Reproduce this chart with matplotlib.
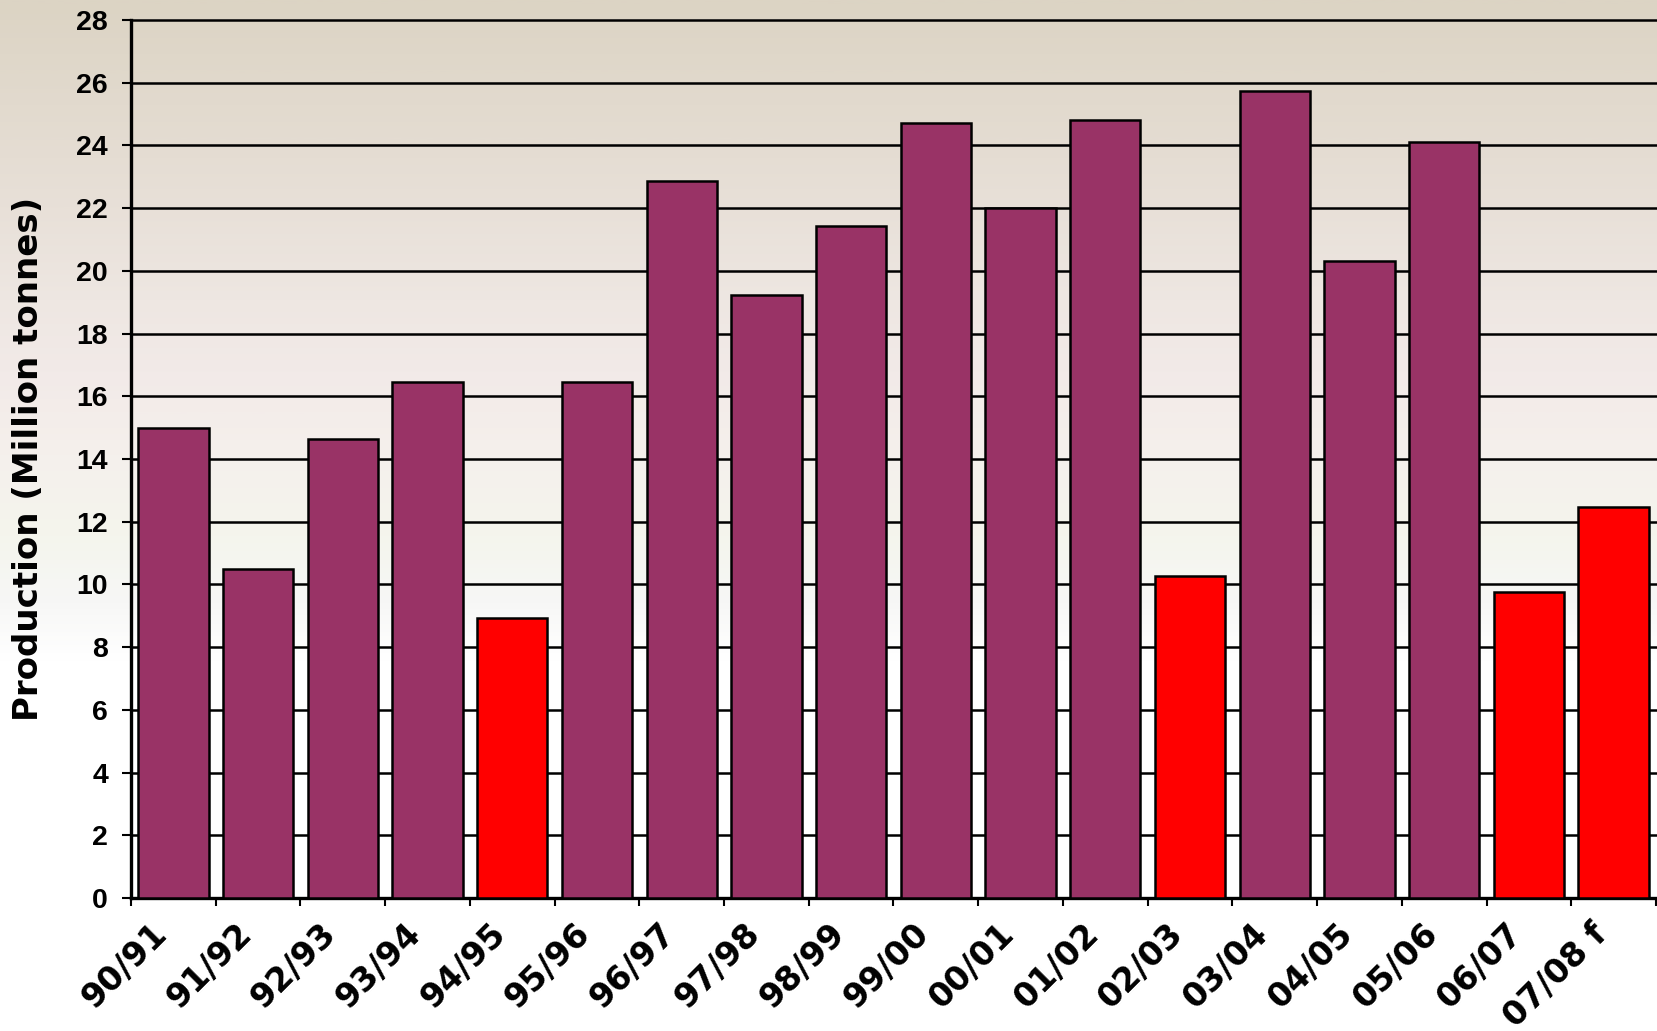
import matplotlib.pyplot as plt
import numpy as np
from matplotlib.colors import LinearSegmentedColormap

# production by season (million tonnes)
seasons = ['90/91', '91/92', '92/93', '93/94', '94/95', '95/96', '96/97', '97/98', '98/99',
           '99/00', '00/01', '01/02', '02/03', '03/04', '04/05', '05/06', '06/07', '07/08 f']
production = [15.0, 10.5, 14.65, 16.45, 8.93, 16.45, 22.85, 19.22, 21.42,
              24.7, 22.0, 24.8, 10.27, 25.72, 20.32, 24.12, 9.77, 12.47]
# drought-hit seasons shown in red
drought_seasons = ['94/95', '02/03', '06/07', '07/08 f']

W, H = 1657, 1031
fig = plt.figure(figsize=(W / 100, H / 100), dpi=100)

# soft vertical gradient behind everything
bg = fig.add_axes([0, 0, 1, 1], zorder=-10)
bg.axis('off')
stops = [(0.0, (220, 212, 196)), (0.10, (226, 218, 206)), (0.20, (232, 224, 216)),
         (0.29, (238, 231, 226)), (0.36, (242, 234, 232)), (0.44, (245, 240, 236)),
         (0.52, (244, 245, 237)), (0.585, (247, 247, 246)), (0.64, (255, 255, 255)),
         (1.0, (255, 255, 255))]
cmap = LinearSegmentedColormap.from_list('bg', [(p, tuple(c / 255 for c in rgb)) for p, rgb in stops])
bg.imshow(np.linspace(0, 1, 600).reshape(-1, 1), aspect='auto', cmap=cmap, extent=[0, 1, 0, 1])

ax = fig.add_axes([131 / W, 1 - 898 / H, (1656 - 131) / W, (898 - 20) / H])
ax.patch.set_alpha(0)

x = np.arange(len(seasons))
colors = ['#FF0000' if s in drought_seasons else '#993366' for s in seasons]
ax.bar(x, production, width=0.83, color=colors, edgecolor='black', linewidth=1.8, zorder=3)

ax.set_xlim(-0.5, len(seasons) - 0.5)
ax.set_ylim(0, 28)
ax.set_yticks(range(0, 29, 2))
ax.yaxis.grid(True, color='black', linewidth=1.8)
ax.set_axisbelow(True)
for gl in ax.get_ygridlines():
    gl.set_clip_on(False)

for side in ['top', 'right']:
    ax.spines[side].set_visible(False)
for side in ['left', 'bottom']:
    ax.spines[side].set_linewidth(2.4)

ax.set_xticks(np.arange(-0.5, len(seasons), 1))
ax.set_xticklabels([])
ax.set_xticks(x, minor=True)
ax.set_xticklabels(seasons, minor=True, rotation=45, ha='right', va='top',
                   fontsize=24, fontweight='bold', family='DejaVu Sans')
ax.tick_params(axis='x', which='major', direction='out', length=6, width=1.5)
ax.tick_params(axis='x', which='minor', length=0, pad=14)
ax.tick_params(axis='y', direction='out', length=6.5, width=1.5, pad=10)
for lab in ax.get_yticklabels():
    lab.set_fontfamily('Liberation Sans')
    lab.set_fontweight('bold')
    lab.set_fontsize(20.5)

fig.text(29 / W, 1 - 459 / H, 'Production (Million tonnes)', rotation=90, ha='center', va='center',
         fontsize=24.5, fontweight='bold', family='DejaVu Sans')

fig.savefig('out.png', dpi=100)
